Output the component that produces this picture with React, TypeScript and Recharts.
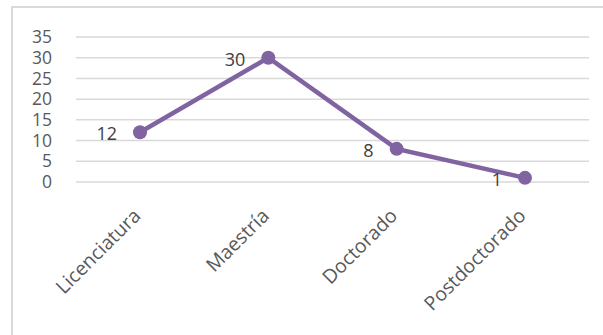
import { LineChart, Line, XAxis, YAxis, CartesianGrid, LabelList } from "recharts";

const categories = ["Licenciatura", "Maestría", "Doctorado", "Postdoctorado"];
const counts = [12, 30, 8, 1];
const yTicks = [0, 5, 10, 15, 20, 25, 30, 35];

const data = categories.map((name, i) => ({ name, value: counts[i] }));

const PURPLE = "#8064A2";
const FONT = "'Open Sans', 'Noto Sans', sans-serif";

function RotatedTick({ x, y, payload }: { x?: number; y?: number; payload?: { value: string } }) {
  const ax = (x ?? 0) + 2;
  const ay = (y ?? 0) + 27;
  return (
    <text
      x={ax}
      y={ay}
      textAnchor="end"
      fill="#595959"
      fontSize={19.5}
      fontFamily={FONT}
      transform={`rotate(-45 ${ax} ${ay})`}
    >
      {payload?.value}
    </text>
  );
}

function PointLabel(props: { x?: number; y?: number; value?: number }) {
  const { x = 0, y = 0, value } = props;
  return (
    <text
      x={x - 23}
      y={y + 1}
      textAnchor="end"
      dominantBaseline="central"
      fill="#404040"
      fontSize={18}
      fontFamily={FONT}
    >
      {value}
    </text>
  );
}

export default function App() {
  return (
    <div style={{ position: "absolute", left: 0, top: 0, width: 603, height: 335, background: "#fff" }}>
      <div
        style={{
          position: "absolute",
          left: 11,
          top: 6,
          width: 600,
          height: 340,
          borderLeft: "2px solid #d9d9d9",
          borderTop: "2px solid #d9d9d9",
          boxSizing: "border-box",
        }}
      />
      <div style={{ position: "absolute", left: 0, top: 0 }}>
        <LineChart width={603} height={335} data={data} margin={{ top: 37, right: 14, left: 0, bottom: 0 }}>
          <CartesianGrid vertical={false} stroke="#d9d9d9" strokeWidth={1.5} />
          <XAxis
            dataKey="name"
            axisLine={false}
            tickLine={false}
            height={153}
            interval={0}
            padding={{ left: 64, right: 64 }}
            tick={<RotatedTick />}
          />
          <YAxis
            domain={[0, 35]}
            ticks={yTicks}
            axisLine={false}
            tickLine={false}
            tickSize={0}
            tickMargin={24}
            width={76}
            interval={0}
            tick={{ fill: "#595959", fontSize: 17.5, fontFamily: FONT }}
          />
          <Line
            type="linear"
            dataKey="value"
            stroke={PURPLE}
            strokeWidth={4.5}
            dot={{ r: 7, fill: PURPLE, stroke: PURPLE, strokeWidth: 0 }}
            activeDot={false}
            isAnimationActive={false}
          >
            <LabelList dataKey="value" content={<PointLabel />} />
          </Line>
        </LineChart>
      </div>
    </div>
  );
}
